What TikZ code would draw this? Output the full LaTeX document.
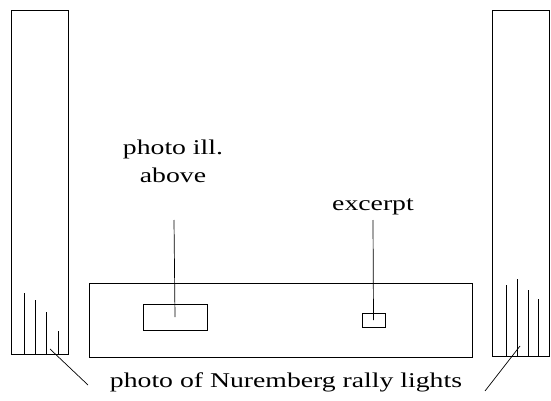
\documentclass[tikz,border=0pt]{standalone}
\usepackage{fontspec}
\setmainfont{Liberation Serif}[FakeStretch=1.32]
\usetikzlibrary{positioning}
\tikzset{
    frame/.style={draw, line width=0.9pt, inner sep=0pt},
    caption/.style={font=\fontsize{21}{28}\selectfont, align=center, inner sep=0pt},
    leader/.style={line width=0.7pt}
}
\begin{document}
\begin{tikzpicture}[x=1pt, y=-1pt, line width=0.9pt]
    \useasboundingbox (0,0) rectangle (551,401);
    % side panels
    \node[frame, minimum width=57pt, minimum height=344pt] (panelL) at (39.5,182) {};
    \node[frame, minimum width=57pt, minimum height=346pt] (panelR) at (521,183) {};
    \foreach \x/\t in {24/293, 35/300, 46/312, 58/331}
        \draw (\x,\t) -- (\x,354);
    \foreach \x/\t in {506/285, 517/279, 528/290, 538/299}
        \draw (\x,\t) -- (\x,356);
    % main strip
    \node[frame, minimum width=383pt, minimum height=74pt] (strip) at (280.5,320) {};
    \node[frame, minimum width=64pt, minimum height=26pt] (photo) at (175,317) {};
    \node[frame, minimum width=23pt, minimum height=14pt] (excerpt) at (373.5,320) {};
    % labels
    \node[caption, anchor=base] (lphoto) at (173,182) {photo ill.\\above};
    \node[caption, anchor=base] (lexcerpt) at (373,210) {excerpt};
    \node[caption, anchor=base] (lnur) at (286,387) {photo of Nuremberg rally lights};
    \coordinate (tphoto) at (174,220);
    \coordinate (texcerpt) at (373,220);
    \draw[leader] (tphoto) -- (photo.center);
    \draw[leader] (texcerpt) -- (excerpt.center);
    % pointers to the lights
    \coordinate (sL) at (88,385);
    \coordinate (eL) at (50,349);
    \coordinate (sR) at (485,391);
    \coordinate (eR) at (520,346);
    \draw[leader] (sL) -- (eL);
    \draw[leader] (sR) -- (eR);
\end{tikzpicture}
\end{document}
